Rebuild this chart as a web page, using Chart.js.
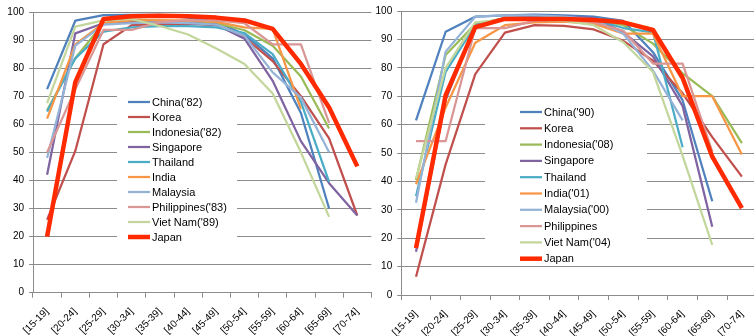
<!DOCTYPE html>
<html>
<head>
<meta charset="utf-8">
<script src="https://cdn.jsdelivr.net/npm/chart.js@4.4.1/dist/chart.umd.min.js"></script>
<style>
  body { margin: 0; background: #fff; width: 754px; height: 336px; overflow: hidden; position: relative; }
  canvas { position: absolute; top: 0; }
  #left-chart { left: 0; }
  #right-chart { left: 370px; }
</style>
</head>
<body>
<canvas id="left-chart" width="377" height="336"></canvas>
<canvas id="right-chart" width="390" height="336"></canvas>
<script>
const ageGroups = ['[15-19]', '[20-24]', '[25-29]', '[30-34]', '[35-39]', '[40-44]',
                   '[45-49]', '[50-54]', '[55-59]', '[60-64]', '[65-69]', '[70-74]'];

const seriesColors = ['#4f81bd', '#c0504d', '#9bbb59', '#8064a2', '#4bacc6',
                      '#f79646', '#95b3d7', '#d99694', '#c3d69b', '#ff2a00'];

// left panel (1980s)
const leftNames = ["China('82)", 'Korea', "Indonesia('82)", 'Singapore', 'Thailand',
                   'India', 'Malaysia', "Philippines('83)", "Viet Nam('89)", 'Japan'];
const chinaL       = [72.5, 96.9, 98.9, 99, 99, 98, 96.5, 92, 83.5, 64, 30, null];
const koreaL       = [26, 50.5, 88.5, 95.3, 95.8, 95.8, 95.3, 91, 82.5, 70, 55, 27.5];
const indonesiaL   = [65, 83.5, 96, 97.3, 97, 96.5, 96, 93.5, 88, 77, 58.5, null];
const singaporeL   = [42, 92.4, 96, 96.5, 96.5, 96, 95.5, 90.5, 75.5, 54, 39, 27.5];
const thailandL    = [64.5, 83.5, 93, 94.5, 95, 95, 94.5, 92.5, 85, 68, 39.5, null];
const indiaL       = [62, 88.5, 96, 97, 97, 97, 96.5, 94.5, 94, 65.5, null, null];
const malaysiaL    = [48, 88, 95.5, 96, 96.3, 96, 95.5, 91.5, 78.5, 69.5, 50, null];
const philippinesL = [50, 72.5, 93.6, 93.6, 96.5, 97, 97, 96, 88.5, 88.5, 60.5, null];
const vietnamL     = [67.5, 94.8, 97, 97.5, 95, 92, 87, 81.5, 71, 50, 27, null];
const japanL       = [20, 75, 97.5, 98.5, 98.7, 98.5, 98, 97, 94, 81.5, 66, 45];

// right panel (latest)
const rightNames = ["China('90)", 'Korea', "Indonesia('08)", 'Singapore', 'Thailand',
                    "India('01)", "Malaysia('00)", 'Philippines', "Viet Nam('04)", 'Japan'];
const chinaR       = [61.5, 92.7, 98, 98.5, 98.7, 98.5, 98, 96.5, 85.5, 68.5, 33, null];
const koreaR       = [6.4, 46, 77.8, 92.4, 95, 94.8, 93.5, 89.5, 82.5, 71, 55.6, 41.7];
const indonesiaR   = [40.5, 84.5, 95.4, 97.5, 97.8, 97.5, 97, 95, 88.5, 78, 70, 53.5];
const singaporeR   = [15.2, 68.7, 95, 97.5, 98, 98, 97.5, 92.5, 84, 66.5, 24, null];
const thailandR    = [34.8, 78.6, 95, 97, 97.5, 97.5, 97, 94, 92.5, 52, null, null];
const indiaR       = [39, 66, 88.8, 95, 96, 96.3, 95.5, 92, 92, 70, 70, 49.5];
const malaysiaR    = [32.5, 85.7, 98, 98.5, 98.5, 98, 97, 92, 79, 61.5, null, null];
const philippinesR = [54.2, 54.2, 94, 94, 96.5, 97, 96, 93, 81.5, 81.5, 50.5, null];
const vietnamR     = [41, 80, 96, 97, 97, 96.5, 95, 89, 78.5, 49, 17.6, null];
const japanR       = [16.5, 70.4, 94.3, 97.2, 97.2, 97.2, 96.8, 96, 93.3, 76.4, 48.7, 30.6];

const leftSeries  = [chinaL, koreaL, indonesiaL, singaporeL, thailandL, indiaL, malaysiaL, philippinesL, vietnamL, japanL];
const rightSeries = [chinaR, koreaR, indonesiaR, singaporeR, thailandR, indiaR, malaysiaR, philippinesR, vietnamR, japanR];

Chart.defaults.font.family = '"Liberation Sans", Arial, sans-serif';
Chart.defaults.color = '#000';

const gridColor = '#8c8c8c';

// legend drawn inside the plot, on a white patch over the gridlines
const legendBoxPlugin = {
    id: 'legendBox',
    beforeDatasetsDraw(chart, args, opts) {
        const ctx = chart.ctx;
        ctx.save();
        ctx.fillStyle = '#fff';
        ctx.fillRect(opts.x, opts.y, opts.w, opts.h);
        ctx.font = '11px "Liberation Sans", Arial, sans-serif';
        ctx.textBaseline = 'middle';
        ctx.textAlign = 'left';
        chart.data.datasets.forEach((ds, i) => {
            const y = opts.top + i * opts.step;
            ctx.strokeStyle = ds.borderColor;
            ctx.lineWidth = ds.borderWidth;
            ctx.beginPath();
            ctx.moveTo(opts.lineX, y);
            ctx.lineTo(opts.lineX + 22, y);
            ctx.stroke();
            ctx.fillStyle = '#000';
            ctx.fillText(ds.label, opts.lineX + 24, y + 0.5);
        });
        ctx.restore();
    }
};

function buildDatasets(names, series) {
    return names.map((name, i) => ({
        label: name,
        data: series[i],
        borderColor: seriesColors[i],
        backgroundColor: seriesColors[i],
        borderWidth: i === names.length - 1 ? 4.5 : 2.25,
        pointRadius: 0,
        tension: 0,
        fill: false,
        borderJoinStyle: 'round',
        order: names.length - i,
    }));
}

function buildOptions(axisWidth, axisHeight, padTop, padRight, legend) {
    return {
        responsive: false,
        animation: false,
        devicePixelRatio: 1,
        layout: { padding: { top: padTop, right: padRight, left: 0, bottom: 0 } },
        plugins: {
            legend: { display: false },
            tooltip: { enabled: false },
            legendBox: legend,
        },
        scales: {
            x: {
                offset: true,
                grid: { display: true, drawOnChartArea: false, drawTicks: true, tickLength: 5, color: gridColor, offset: true },
                border: { color: gridColor },
                ticks: { autoSkip: false, maxRotation: 45, minRotation: 45, padding: 8, font: { size: 10 } },
                afterFit(scale) { scale.height = axisHeight; },
            },
            y: {
                min: 0,
                max: 100,
                grid: { color: gridColor, tickLength: 4 },
                border: { color: gridColor },
                ticks: { stepSize: 10, padding: 5, font: { size: 10 } },
                afterFit(scale) { scale.width = axisWidth; },
            },
        },
    };
}

new Chart(document.getElementById('left-chart').getContext('2d'), {
    type: 'line',
    data: { labels: ageGroups, datasets: buildDatasets(leftNames, leftSeries) },
    options: buildOptions(33, 43.3, 12, 5.6, { x: 117, y: 87, w: 120, h: 163, lineX: 128, top: 102, step: 15 }),
    plugins: [ legendBoxPlugin ],
});

new Chart(document.getElementById('right-chart').getContext('2d'), {
    type: 'line',
    data: { labels: ageGroups, datasets: buildDatasets(rightNames, rightSeries) },
    options: buildOptions(31.2, 41, 11, 3.3, { x: 115, y: 100, w: 162, h: 162, lineX: 150, top: 112, step: 16.3 }),
    plugins: [ legendBoxPlugin ],
});
</script>
</body>
</html>
